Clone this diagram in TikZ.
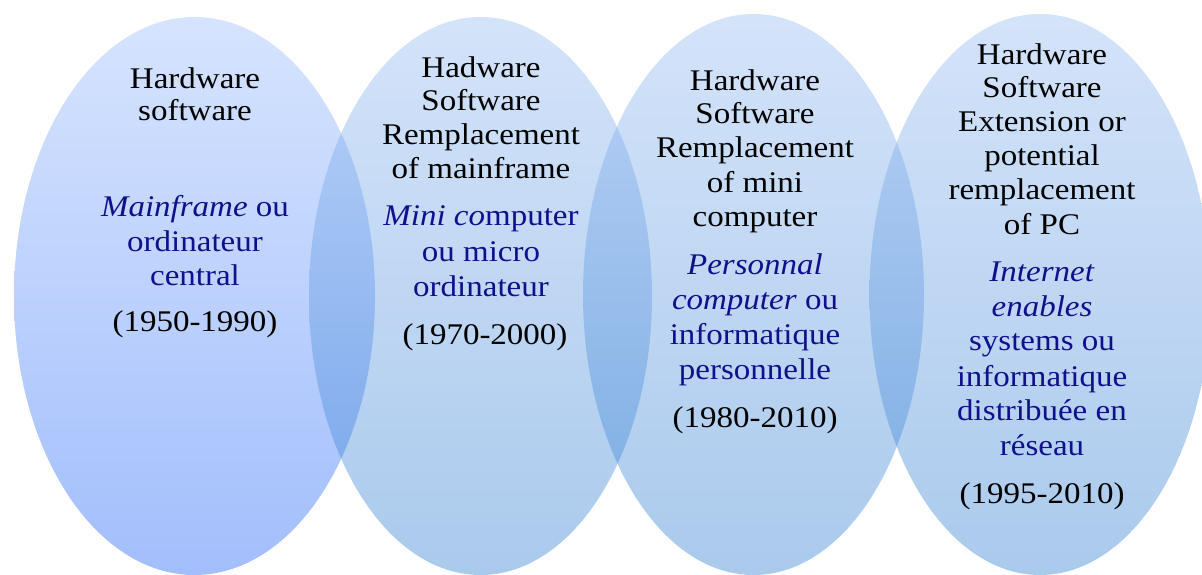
\documentclass[tikz,border=0pt]{standalone}
\usepackage{fontspec}
\setmainfont{Liberation Serif}[FakeStretch=1.1]
\usetikzlibrary{shapes.geometric}
\definecolor{txtblue}{RGB}{16,16,140}
\definecolor{aTop}{RGB}{152,187,252}
\definecolor{aBot}{RGB}{22,92,247}
\definecolor{bTop}{RGB}{147,185,242}
\definecolor{bBot}{RGB}{42,122,207}
\tikzset{
  bub/.style={ellipse, draw=none, inner sep=0pt, fill opacity=0.4},
  bubA/.style={bub, top color=aTop, bottom color=aBot},
  bubB/.style={bub, top color=bTop, bottom color=bBot},
  txt/.style={anchor=base, inner sep=0pt, font=\fontsize{30}{34}\selectfont},
}
\begin{document}
\begin{tikzpicture}[x=1pt, y=-1pt]
\useasboundingbox (0,0) rectangle (1202,574);
\clip (0,0) rectangle (1202,574);
\node[bubA, minimum width=361pt, minimum height=558pt] (e1) at (194.5,296) {};
\node[bubB, minimum width=343pt, minimum height=558pt] (e2) at (480.5,296) {};
\node[bubB, minimum width=341pt, minimum height=561pt] (e3) at (753.5,294.5) {};
\node[bubB, minimum width=341pt, minimum height=561pt] (e4) at (1040,294.5) {};
\foreach \y/\c/\t [count=\i] in {
  88/black/Hardware, 120/black/software,
  216/txtblue/{\textit{Mainframe} ou}, 251/txtblue/ordinateur, 285/txtblue/central,
  331/black/(1950-1990)}
  \node[txt, text=\c] (a\i) at (195,\y) {\t};
\foreach \y/\c/\t [count=\i] in {
  77/black/Hadware, 110/black/Software, 144/black/Remplacement, 178/black/of mainframe,
  225/txtblue/{\textit{Mini co}mputer}, 261/txtblue/ou micro, 296/txtblue/ordinateur}
  \node[txt, text=\c] (b\i) at (481,\y) {\t};
\node[txt] (b8) at (485,344) {(1970-2000)};
\foreach \y/\c/\t [count=\i] in {
  90/black/Hardware, 123/black/Software, 157/black/Remplacement, 192/black/of mini,
  226/black/computer,
  274/txtblue/{\textit{Personnal}}, 309/txtblue/{\textit{computer} ou},
  344/txtblue/informatique, 379/txtblue/personnelle,
  427/black/(1980-2010)}
  \node[txt, text=\c] (c\i) at (755,\y) {\t};
\foreach \y/\c/\t [count=\i] in {
  64/black/Hardware, 97/black/Software, 131/black/Extension or, 165/black/potential,
  199/black/remplacement, 234/black/of PC,
  281/txtblue/{\textit{Internet}}, 316/txtblue/{\textit{enables}},
  350/txtblue/systems ou, 386/txtblue/informatique, 420/txtblue/distribuée en,
  455/txtblue/réseau,
  503/black/(1995-2010)}
  \node[txt, text=\c] (d\i) at (1042,\y) {\t};
\end{tikzpicture}
\end{document}
